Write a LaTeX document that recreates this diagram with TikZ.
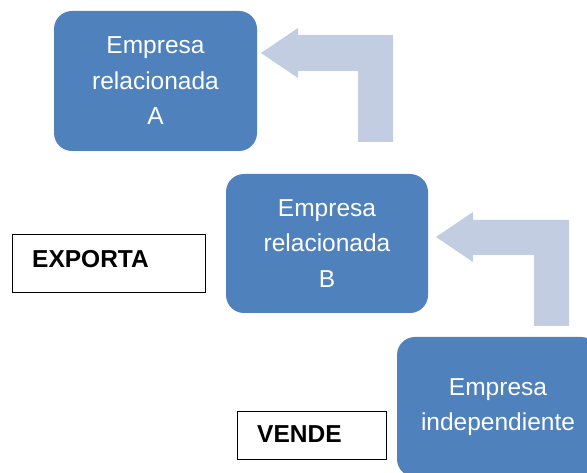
\documentclass[tikz,border=0pt]{standalone}
\usepackage{fontspec}
\setmainfont{Liberation Sans}
\definecolor{boxblue}{HTML}{4F81BD}
\definecolor{arrowblue}{HTML}{C3CDE2}
\begin{document}
\begin{tikzpicture}[x=1pt,y=-1pt,
  bluebox/.style={fill=boxblue, draw=none, rounded corners=18pt, inner sep=0pt, text=white, align=center,
     font=\fontsize{24.5}{35.5}\selectfont},
  bentarrow/.style={fill=arrowblue, draw=none},
  labelbox/.style={draw=black, line width=1pt, fill=white, inner sep=0pt},
  labeltext/.style={font=\fontsize{24.5}{28}\selectfont\bfseries, text=black, inner sep=0pt, anchor=base west}]
\useasboundingbox (0,0) rectangle (587,473);

% blue boxes
\node[bluebox, minimum width=203pt, minimum height=140pt] (boxA) at (155.5,81) {Empresa\\relacionada\\A};
\node[bluebox, minimum width=202pt, minimum height=139pt] (boxB) at (327,243.5) {Empresa\\relacionada\\B};
\node[bluebox, minimum width=202pt, minimum height=140pt] (boxC) at (498,407) {Empresa\\independiente};

% bent arrows
\coordinate (tipA) at (261,53);
\fill[bentarrow] (tipA) -- (298,28) -- (298,35) -- (393,35) -- (393,142) -- (358,142) -- (358,71) -- (298,71) -- (298,78) -- cycle;
\coordinate (tipB) at (436,237);
\fill[bentarrow] (tipB) -- (473,212) -- (473,220) -- (569,220) -- (569,326) -- (534,326) -- (534,255) -- (473,255) -- (473,262) -- cycle;

% label boxes
\node[labelbox, minimum width=193pt, minimum height=58pt] (export) at (108.5,264) {};
\node[labeltext] (exportlbl) at (32,268) {EXPORTA};
\node[labelbox, minimum width=149pt, minimum height=48pt] (vende) at (311.5,435) {};
\node[labeltext] (vendelbl) at (257,442) {VENDE};
\end{tikzpicture}
\end{document}
